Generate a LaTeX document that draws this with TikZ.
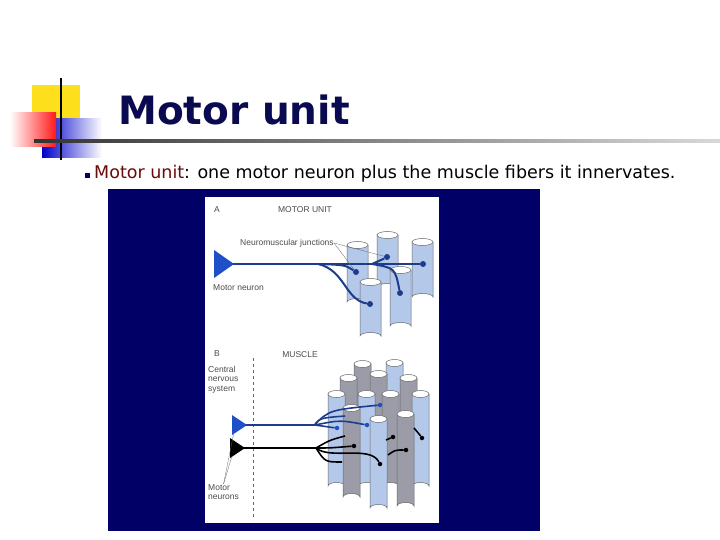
\documentclass[tikz,border=0pt]{standalone}
\usepackage{fontspec}
\setmainfont{DejaVu Sans}
\newfontfamily\labfont{Liberation Sans}
\definecolor{navy}{HTML}{000066}
\definecolor{titlec}{HTML}{0A0A50}
\definecolor{cylblue}{HTML}{B4C8EA}
\definecolor{cylgray}{HTML}{9C9CA8}
\definecolor{nblue}{HTML}{1F4FC8}
\definecolor{axon}{HTML}{1E3C8C}
\definecolor{maroon}{HTML}{6B0A0A}
\tikzset{
  lab/.style={font=\labfont\fontsize{8.5}{9.5}\selectfont,text=black!70,inner sep=0pt},
  axA/.style={axon,line width=2pt},
  axB/.style={line width=1.6pt},
  dotn/.style={circle,fill,inner sep=0pt,minimum size=6pt},
}
\newcommand{\mycyl}[5]{% x, top, bottom, width, color
  \fill[#5,draw=black!60,line width=0.5pt] (#1,#2) -- (#1,#3) arc[start angle=180,end angle=360,x radius=#4/2,y radius=3.5] -- (#1+#4,#2) -- cycle;
  \draw[black!60,line width=0.5pt,fill=white] (#1+#4/2,#2) ellipse[x radius=#4/2,y radius=3.5];
}
\begin{document}
\begin{tikzpicture}[x=1pt,y=-1pt]
\useasboundingbox (0,0) rectangle (720,540);
\fill[white] (0,0) rectangle (720,540);
% decoration
\fill[yellow!80!orange!90] (32,85) rectangle (80,130);
\shade[left color=blue!80!black,right color=white] (42,119) rectangle (102,158);
\shade[left color=white,right color=red!90] (10,113) rectangle (56,147);
\draw[black,line width=1.5pt] (61,78) -- (61,160);
\shade[left color=black!80,right color=black!15] (34,140) rectangle (720,142.5);
\node[anchor=base,font=\bfseries\fontsize{39}{44}\selectfont,text=titlec] (title) at (234,125) {Motor unit};
% bullet
\fill[navy] (85,173) rectangle (90,178);
\node[anchor=base west,inner sep=0pt,font=\fontsize{17.5}{20}\selectfont] (txt) at (94,179) {\textcolor{maroon}{Motor unit}: one motor neuron plus the muscle fibers it innervates.};
% image frame
\fill[navy] (108,189) rectangle (540,531);
\fill[white] (205,197) rectangle (439,523);
% ---------- panel A
\node[lab,anchor=west] (la) at (214,210) {A};
\node[lab] (lmu) at (305,210) {MOTOR UNIT};
\mycyl{377}{235}{287}{21}{cylblue}
\mycyl{347}{245}{302}{21}{cylblue}
\mycyl{412}{242}{297}{21}{cylblue}
\mycyl{390}{270}{326}{21}{cylblue}
\mycyl{360}{282}{336}{21}{cylblue}
\fill[nblue] (214,250) -- (234,264) -- (214,278) -- cycle;
\coordinate (tA) at (233,264);
\node[dotn,axon] (j1) at (423,264) {};
\node[dotn,axon] (j2) at (356,272) {};
\node[dotn,axon] (j3) at (387,257) {};
\node[dotn,axon] (j4) at (400,293) {};
\node[dotn,axon] (j5) at (370,304) {};
\draw[axA] (tA) -- (j1);
\draw[axA] (320,264) .. controls (345,265) .. (j2);
\draw[axA] (318,264) .. controls (345,270) and (345,300) .. (j5);
\draw[axA] (372,264) .. controls (378,262) .. (j3);
\draw[axA] (372,264) .. controls (395,268) .. (j4);
\node[lab,anchor=west] (lnj) at (240,243) {Neuromuscular junctions};
\draw[black!60,line width=0.3pt] (lnj.east) -- (j2);
\draw[black!60,line width=0.3pt] (lnj.east) -- (j3);
\node[lab,anchor=west] (lmn) at (213,288) {Motor neuron};
% ---------- panel B
\node[lab,anchor=west] (lb) at (214,354) {B};
\node[lab] (lmus) at (300,355) {MUSCLE};
\node[lab,anchor=north west,align=left] (lcns) at (208,366) {Central\\nervous\\system};
\draw[black!60,dashed,line width=0.4pt] (253,358) -- (253,520);
\mycyl{354}{364}{470}{17}{cylgray}
\mycyl{386}{363}{470}{17}{cylblue}
\mycyl{340}{378}{480}{17}{cylgray}
\mycyl{370}{374}{480}{17}{cylgray}
\mycyl{400}{378}{480}{17}{cylgray}
\mycyl{328}{394}{486}{17}{cylblue}
\mycyl{358}{394}{486}{17}{cylblue}
\mycyl{382}{394}{486}{17}{cylgray}
\mycyl{412}{394}{486}{17}{cylblue}
\mycyl{343}{408}{497}{17}{cylgray}
\mycyl{370}{419}{508}{17}{cylblue}
\mycyl{397}{414}{506}{17}{cylgray}
% neurons B
\fill[nblue] (232,415) -- (247,425) -- (232,435) -- cycle;
\fill[black] (230,438) -- (245,448) -- (230,458) -- cycle;
\coordinate (tB1) at (246,425);
\coordinate (tB2) at (244,448);
\node[dotn,nblue,minimum size=4.5pt] (b1) at (337,428) {};
\node[dotn,nblue,minimum size=4.5pt] (b2) at (367,425) {};
\node[dotn,nblue,minimum size=4.5pt] (b3) at (380,405) {};
\draw[axB,axon] (tB1) -- (315,425);
\draw[axB,axon] (315,425) .. controls (320,418) .. (345,416);
\draw[axB,axon] (315,425) .. controls (325,427) .. (b1);
\draw[axB,axon] (315,425) .. controls (340,420) .. (b2);
\draw[axB,axon] (315,424) .. controls (330,410) .. (b3);
\node[dotn,black,minimum size=4.5pt] (k1) at (354,446) {};
\node[dotn,black,minimum size=4.5pt] (k2) at (380,464) {};
\node[dotn,black,minimum size=4.5pt] (k3) at (406,450) {};
\node[dotn,black,minimum size=4.5pt] (k4) at (393,437) {};
\node[dotn,black,minimum size=4.5pt] (k5) at (422,438) {};
\draw[axB,black] (tB2) -- (318,448);
\draw[axB,black] (316,448) .. controls (330,448) .. (k1);
\draw[axB,black] (316,448) .. controls (330,460) and (370,445) .. (k2);
\draw[axB,black] (316,448) .. controls (330,440) .. (345,436);
\draw[axB,black] (316,448) .. controls (325,462) .. (342,462);
\draw[axB,black] (388,455) .. controls (395,450) .. (k3);
\draw[axB,black] (386,440) -- (k4);
\draw[axB,black] (414,428) .. controls (418,432) .. (k5);
\node[lab,anchor=north west,align=left] (lmns) at (208,484) {Motor\\neurons};
\draw[black!60,line width=0.3pt] (lmns.north) -- (234,432);
\draw[black!60,line width=0.3pt] (lmns.north) -- (232,456);
\end{tikzpicture}
\end{document}
